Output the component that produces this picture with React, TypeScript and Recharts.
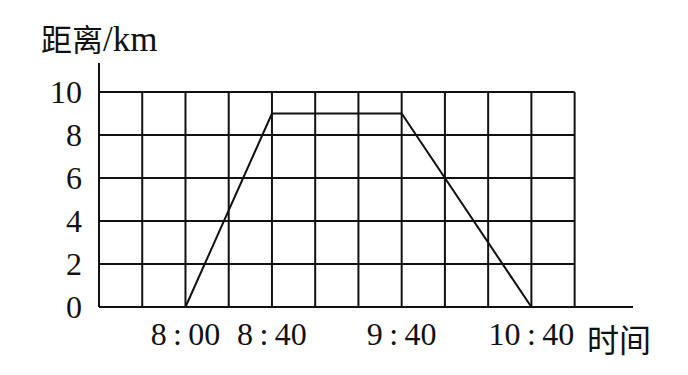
import { LineChart, Line, XAxis, YAxis, ReferenceLine } from "recharts";

// time in minutes since midnight
const times = [480, 520, 580, 640];
const distances = [0, 9, 9, 0];

const xTicks = [480, 520, 580, 640];
const xTickLabels: Record<number, string> = {
  480: "8\u2009:\u200900",
  520: "8\u2009:\u200940",
  580: "9\u2009:\u200940",
  640: "10\u2009:\u200940",
};
const yTicks = [0, 2, 4, 6, 8, 10];

// grid columns every 20 minutes from 7:20 to 11:00
const gridX = [440, 460, 480, 500, 520, 540, 560, 580, 600, 620, 640, 660];
const gridY = [2, 4, 6, 8, 10];

const data = times.map((t, i) => ({ t, d: distances[i] }));

const serif = '"Liberation Serif", "Noto Sans CJK SC", serif';
const ink = "#111";

export default function App() {
  return (
    <div style={{ position: "absolute", left: 0, top: 0, width: 688, height: 375, background: "#fff" }}>
      <LineChart
        width={688}
        height={375}
        data={data}
        margin={{ top: 63, right: 55, bottom: 28, left: 49 }}
      >
        <XAxis
          dataKey="t"
          type="number"
          domain={[440, 687]}
          ticks={xTicks}
          tickFormatter={(v) => xTickLabels[v] ?? ""}
          tickLine={false}
          tickMargin={9}
          height={40}
          axisLine={{ stroke: ink, strokeWidth: 2 }}
          tick={{ fill: ink, fontSize: 32, fontFamily: serif }}
          interval={0}
        />
        <YAxis
          type="number"
          domain={[0, 11.35]}
          ticks={yTicks}
          tickLine={false}
          tickMargin={11}
          width={50}
          axisLine={{ stroke: ink, strokeWidth: 2 }}
          tick={{ fill: ink, fontSize: 32, fontFamily: serif }}
          interval={0}
        />
        {gridY.map((y) => (
          <ReferenceLine
            key={"h" + y}
            segment={[{ x: 440, y }, { x: 660, y }]}
            stroke={ink}
            strokeWidth={2}
            ifOverflow="visible"
          />
        ))}
        {gridX.map((x) => (
          <ReferenceLine
            key={"v" + x}
            segment={[{ x, y: 0 }, { x, y: 10 }]}
            stroke={ink}
            strokeWidth={2}
            ifOverflow="visible"
          />
        ))}
        <Line
          dataKey="d"
          stroke={ink}
          strokeWidth={2}
          dot={false}
          isAnimationActive={false}
          type="linear"
        />
      </LineChart>
      <div
        style={{
          position: "absolute",
          left: 41,
          top: 21,
          fontSize: 31,
          fontFamily: serif,
          color: ink,
          lineHeight: "38px",
          whiteSpace: "nowrap",
        }}
      >
        距离<span style={{ fontSize: 35 }}>/km</span>
      </div>
      <div
        style={{
          position: "absolute",
          left: 587,
          top: 319,
          fontSize: 32,
          fontFamily: '"Noto Sans CJK SC", serif',
          color: ink,
          lineHeight: "38px",
          whiteSpace: "nowrap",
        }}
      >
        时间
      </div>
    </div>
  );
}
